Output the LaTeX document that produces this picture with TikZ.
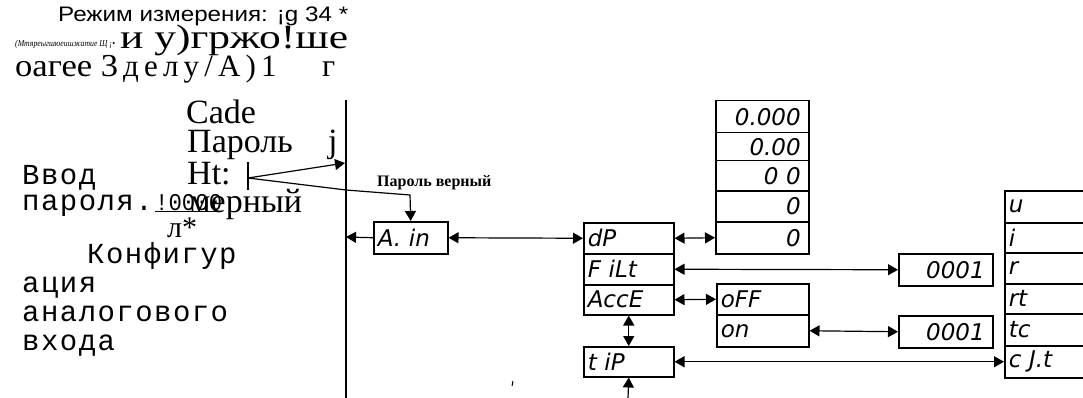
\documentclass[tikz,border=0pt]{standalone}
\usepackage{fontspec}
\usepackage{graphicx}
\setmainfont{Liberation Serif}
\setsansfont{Liberation Sans}
\setmonofont{Liberation Mono}
\newfontfamily\monofam[LetterSpace=5]{Liberation Mono}
\newfontfamily\sevenseg{DejaVu Sans}
\usetikzlibrary{arrows.meta}
\newcommand\segtext{\sevenseg\itshape\fontsize{23}{23}\selectfont}
\newcommand\hfitbox[2]{\resizebox{#1}{\height}{#2}}
\begin{document}
\begin{tikzpicture}[x=1pt,y=-1pt,
  box/.style={draw, line width=1.5pt, rectangle, anchor=north west, inner xsep=4pt, inner ysep=0pt, font=\segtext, align=left},
  rbox/.style={box, align=right, inner xsep=8pt},
  txt/.style={anchor=base west, inner sep=0pt},
  big/.style={txt, font=\fontsize{34}{34}\selectfont},
  mono/.style={txt, font=\monofam\fontsize{29}{29}\selectfont},
  conn/.style={line width=1.2pt},
  arr/.style={conn, -{Triangle[length=10pt,width=11pt]}},
  darr/.style={conn, {Triangle[length=10pt,width=11pt]}-{Triangle[length=10pt,width=11pt]}}
]
\useasboundingbox (0,0) rectangle (1083,398);
\clip (0,0) rectangle (1083,398);

% ---------- left texts ----------
\node[txt, font=\sffamily\fontsize{21}{21}\selectfont] (t1) at (58,22) {\hfitbox{290pt}{Режим измерения: ¡g 34 *}};
\node[txt, font=\itshape\fontsize{9}{9}\selectfont] (t2) at (15,47) {\hfitbox{100pt}{(Мтяреыгшюеишжатие Щ ¡•}};
\node[txt, font=\fontsize{34}{34}\selectfont] (t3) at (120,49) {\hfitbox{228pt}{и у)гржо!ше}};
\node[txt, font=\fontsize{32}{32}\selectfont] (t4) at (15,77) {\hfitbox{103pt}{оагее 3}};
\node[txt, font=\fontsize{31}{31}\selectfont] (t4a) at (123,77) {д\,е\,л\,у\,/\,А\,)\,1};
\node[txt, font=\fontsize{32}{32}\selectfont] (t4b) at (322,77) {г};
\node[big] (t5) at (186,124) {Cade};
\node[big] (t6) at (187,153) {Пароль};
\node[big] (t7) at (328,153) {j};
\node[big] (t8) at (187,185) {Ht:};
\node[big] (t9) at (189,212) {мерный};
\node[mono] (m1) at (22,184) {Ввод};
\node[mono] (m2) at (22,210) {пароля.};
\node[txt, font=\ttfamily\fontsize{24}{24}\selectfont] (m2b) at (155,210) {\hfitbox{67pt}{\underline{!0000}}};
\node[txt, font=\fontsize{30}{30}\selectfont] (t10) at (167,237) {л*};
\node[mono] (m3) at (87,263) {Конфигур};
\node[mono] (m4) at (22,292) {ация};
\node[mono] (m5) at (22,321) {аналогового};
\node[mono] (m6) at (22,350) {входа};

% ---------- boxes ----------
\node[box, minimum width=74pt, minimum height=32pt, text width=66pt] (Ain) at (373,221) {A. in};
\node[box, minimum width=90pt, minimum height=31pt, text width=82pt] (dP) at (583,222) {dP};
\node[box, minimum width=90pt, minimum height=31pt, text width=82pt] (FiLt) at (583,253) {F iLt};
\node[box, minimum width=90pt, minimum height=30pt, text width=82pt] (AccE) at (583,284) {AccE};
\node[box, minimum width=90pt, minimum height=30pt, text width=82pt] (tiP) at (583,346) {t iP};

\node[rbox, minimum width=93pt, minimum height=32pt, text width=77pt] (v1) at (715,100) {0.000};
\node[rbox, minimum width=93pt, minimum height=28pt, text width=77pt] (v2) at (715,132) {0.00};
\node[rbox, minimum width=93pt, minimum height=30pt, text width=77pt] (v3) at (715,160) {0 0};
\node[rbox, minimum width=93pt, minimum height=31pt, text width=77pt] (v4) at (715,190) {0};
\node[rbox, minimum width=93pt, minimum height=32pt, text width=77pt] (v5) at (715,221) {0};

\node[box, minimum width=92pt, minimum height=31pt, text width=84pt] (oFF) at (716,283) {oFF};
\node[box, minimum width=92pt, minimum height=32pt, text width=84pt] (on) at (716,314) {on};

\node[rbox, minimum width=94pt, minimum height=32pt, text width=78pt] (n1) at (898,253) {0001};
\node[rbox, minimum width=94pt, minimum height=32pt, text width=78pt] (n2) at (898,315) {0001};

\node[box, minimum width=96pt, minimum height=32pt, text width=88pt] (r1) at (1004,190) {u};
\node[box, minimum width=96pt, minimum height=30pt, text width=88pt] (r2) at (1004,222) {i};
\node[box, minimum width=96pt, minimum height=31pt, text width=88pt] (r3) at (1004,252) {r};
\node[box, minimum width=96pt, minimum height=30pt, text width=88pt] (r4) at (1004,283) {rt};
\node[box, minimum width=96pt, minimum height=32pt, text width=88pt] (r5) at (1004,313) {tc};
\node[box, minimum width=96pt, minimum height=32pt, text width=88pt] (r6) at (1004,345) {c J.t};

% ---------- main vertical line and password connectors ----------
\coordinate (vtop) at (346,100);
\coordinate (vbot) at (346,398);
\draw[line width=1.7pt] (vtop) -- (vbot);

\coordinate (tk1) at (248,162);
\coordinate (tk2) at (248,190);
\coordinate (tk) at (248,178);
\draw[conn] (tk1) -- (tk2);
\coordinate (vHt) at (345,163);
\draw[arr] (tk) -- (vHt);
\coordinate (bend1) at (346,190);
\coordinate (bend2) at (410,195);
\draw[arr] (tk) -- (bend1) -- (bend2) -- (Ain.north);
\node[txt, font=\bfseries\fontsize{16}{16}\selectfont] (lbl) at (377,186) {Пароль верный};

\coordinate (vA) at (346,237);
\draw[arr] (Ain.west) -- (vA);

% ---------- menu connectors ----------
\draw[darr] (Ain.east) -- (dP.west);
\draw[darr] (dP.east) -- (v5.west);
\draw[darr] (FiLt.east) -- (n1.west);
\draw[darr] (AccE.east) -- (oFF.west);
\draw[darr] (on.east) -- (n2.west);
\draw[darr] (tiP.east) -- (r6.west);
\draw[darr] (AccE.south) -- (tiP.north);
\coordinate (bot) at (628,398);
\draw[arr] (bot) -- (tiP.south);

% stray mark
\draw[line width=1pt] (513,381) -- (512,386);
\end{tikzpicture}
\end{document}
